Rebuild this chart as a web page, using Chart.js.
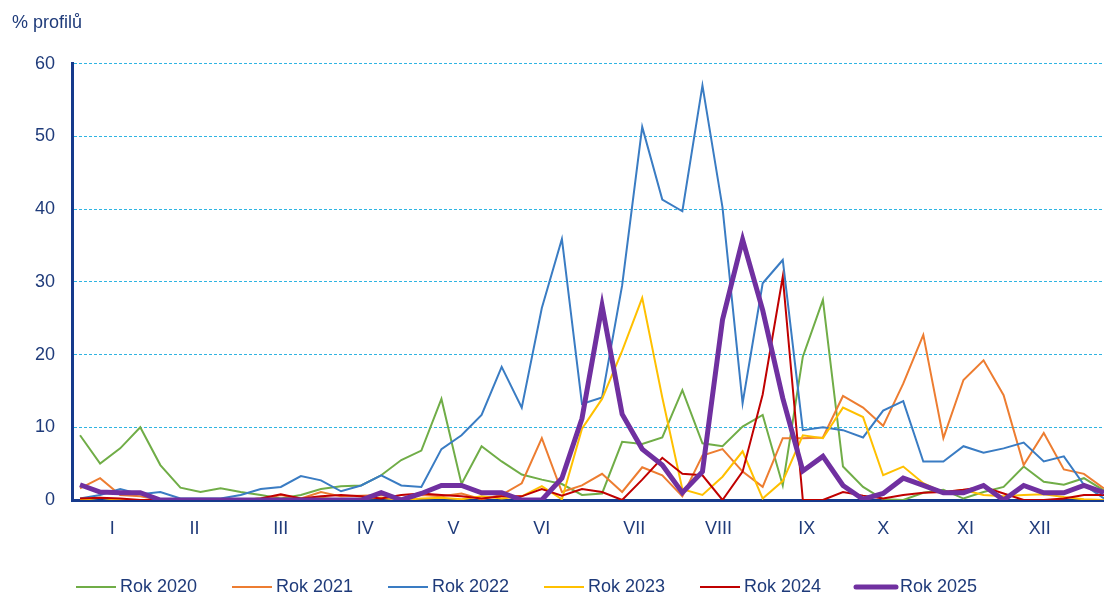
<!DOCTYPE html>
<html>
<head>
<meta charset="utf-8">
<script src="https://cdn.jsdelivr.net/npm/chart.js@4/dist/chart.umd.min.js"></script>
<style>
  html, body { margin: 0; padding: 0; background: #fff; }
  #c { display: block; }
</style>
</head>
<body>
<canvas id="c" width="1104" height="594"></canvas>
<script>
// weekly values, % of profiles (week 1..52)
const weeks = Array.from({ length: 52 }, (_, i) => i);

const rok2020 = [8.9, 5, 7.1, 10, 4.8, 1.7, 1.1, 1.6, 1.1, 0.7, 0.2, 0.7, 1.5, 1.9, 2.0, 3.4, 5.5, 6.8, 13.9, 2.2, 7.4, 5.3, 3.5, 2.8, 2.2, 0.7,
                 0.9, 8.0, 7.7, 8.6, 15.1, 7.8, 7.4, 10.1, 11.7, 2.0, 19.7, 27.5, 4.6, 1.8, 0.1, 0, 1.0, 1.4, 0.2, 1.1, 1.8, 4.6, 2.5, 2.1, 3.0, 1.3];
const rok2021 = [1.6, 3.0, 0.7, 0.5, 0, 0, 0, 0, 0, 0.1, 0.7, 0.2, 1.1, 0.5, 0.6, 0.7, 0.2, 0.7, 0.5, 0.9, 0.1, 0.7, 2.3, 8.5, 1.1, 2.0,
                 3.6, 1.1, 4.5, 3.4, 0.5, 6.1, 7.0, 3.9, 1.8, 8.5, 8.5, 8.6, 14.3, 12.7, 10.2, 16.0, 22.7, 8.5, 16.5, 19.2, 14.4, 4.8, 9.2, 4.2, 3.6, 1.6];
const rok2022 = [0.2, 0.7, 1.5, 0.8, 1.1, 0.2, 0.2, 0.2, 0.7, 1.5, 1.8, 3.3, 2.7, 1.2, 2.0, 3.4, 2.0, 1.8, 7.0, 8.9, 11.7, 18.3, 12.7, 26.4, 35.9, 13.2,
                 14.1, 29.5, 51.3, 41.3, 39.7, 57.0, 40.2, 13.3, 29.8, 33.0, 9.6, 10.0, 9.6, 8.6, 12.3, 13.6, 5.3, 5.3, 7.4, 6.5, 7.1, 7.9, 5.3, 6.0, 2.1, 0.2];
const rok2023 = [0, 0.3, 0, 0, 0, 0, 0.1, 0, 0, 0.2, 0, 0, 0.3, 0, 0.2, 0.3, 0, 0.2, 0.3, 0.1, 0.5, 0.2, 0.5, 1.9, 0.1, 9.8,
                 13.9, 20.5, 27.8, 14.1, 1.5, 0.7, 3.2, 6.7, 0.2, 2.6, 8.9, 8.5, 12.7, 11.4, 3.4, 4.6, 2.3, 1.0, 1.4, 0.7, 0.5, 0.7, 0.8, 0.4, 0.1, 0];
const rok2024 = [0.2, 0.3, 0.2, 0, 0, 0, 0, 0, 0, 0.2, 0.8, 0.2, 0.5, 0.7, 0.5, 0.2, 0.7, 0.9, 0.7, 0.5, 0.2, 0.5, 0.5, 1.5, 0.6, 1.5,
                 1.1, 0, 2.8, 5.8, 3.6, 3.4, 0, 3.9, 14.5, 30.7, 0, 0, 1.1, 0.6, 0.2, 0.7, 1.0, 1.1, 1.4, 1.8, 0.9, 0, 0, 0.2, 0.7, 0.7];
const rok2025 = [2.1, 1.1, 1.0, 1.0, 0, 0, 0, 0, 0, 0, 0, 0, 0, 0, 0, 1.0, 0, 0.9, 2.0, 2.0, 1.0, 1.0, 0, 0, 3.0, 11.2,
                 26.7, 11.8, 7.0, 4.8, 1.0, 3.9, 24.8, 35.8, 26.1, 14.0, 4.0, 6.0, 2.0, 0.1, 0.9, 3.0, 2.0, 1.0, 1.0, 2.0, 0, 2.0, 1.0, 1.0, 2.0, 1.0];

// month labels and the week where each sits
const months  = ['I', 'II', 'III', 'IV', 'V', 'VI', 'VII', 'VIII', 'IX', 'X', 'XI', 'XII'];
const monthAt = [1.6, 5.7, 10.0, 14.2, 18.6, 23.0, 27.6, 31.8, 36.2, 40.0, 44.1, 47.8];
const yTicks  = [0, 10, 20, 30, 40, 50, 60];

const navy = '#1f3b7a';
const axisCol = '#163a8c';
const gridCol = '#2fb4e2';
const font = 'Liberation Sans';

const series = [
  { label: 'Rok 2020', data: rok2020, color: '#70ad47', w: 2 },
  { label: 'Rok 2021', data: rok2021, color: '#ed7d31', w: 2 },
  { label: 'Rok 2022', data: rok2022, color: '#3a7cc3', w: 2 },
  { label: 'Rok 2023', data: rok2023, color: '#ffc000', w: 2 },
  { label: 'Rok 2024', data: rok2024, color: '#c00000', w: 2 },
  { label: 'Rok 2025', data: rok2025, color: '#7030a0', w: 5 },
];

// legend row under the axis, drawn by hand so spacing matches the original
const bottomLegend = {
  id: 'bottomLegend',
  afterDraw(chart) {
    const ctx = chart.ctx;
    const y = chart.height - 7;
    ctx.save();
    ctx.font = '18px "' + font + '"';
    ctx.textBaseline = 'middle';
    ctx.fillStyle = navy;
    chart.data.datasets.forEach((ds, i) => {
      const x = 76 + i * 156;
      ctx.strokeStyle = ds.borderColor;
      ctx.lineWidth = ds.borderWidth;
      ctx.lineCap = ds.borderWidth > 3 ? 'round' : 'butt';
      ctx.beginPath();
      ctx.moveTo(x, y);
      ctx.lineTo(x + 40, y);
      ctx.stroke();
      ctx.fillText(ds.label, x + 44, y);
    });
    ctx.restore();
  }
};

new Chart(document.getElementById('c'), {
  type: 'line',
  data: {
    datasets: series.map((s, i) => ({
      label: s.label,
      data: s.data.map((v, k) => ({ x: weeks[k], y: v })),
      borderColor: s.color,
      backgroundColor: s.color,
      borderWidth: s.w,
      pointRadius: 0,
      tension: 0,
      order: i === 5 ? 0 : 6 - i,
    }))
  },
  options: {
    responsive: false,
    animation: false,
    layout: { padding: { left: 12, right: 0, top: 0, bottom: 58 } },
    plugins: {
      tooltip: { enabled: false },
      legend: { display: false },
      title: {
        display: true, text: '% profilů', align: 'start', color: navy,
        font: { family: font, size: 18, weight: 'normal' },
        padding: { top: 12, bottom: 30 },
      },
    },
    scales: {
      x: {
        type: 'linear', min: -0.4, max: 51,
        afterBuildTicks: s => { s.ticks = monthAt.map(v => ({ value: v })); },
        afterFit: s => { s.height = 36; },
        ticks: {
          callback: (v, i) => months[i],
          color: navy, font: { family: font, size: 18 }, padding: 18, maxRotation: 0, autoSkip: false,
        },
        grid: { display: false, drawTicks: false },
        border: { color: axisCol, width: 3 },
      },
      y: {
        min: 0, max: 60,
        afterBuildTicks: s => { s.ticks = yTicks.map(v => ({ value: v })); },
        afterFit: s => { s.width = 60; },
        ticks: { color: navy, font: { family: font, size: 18 }, padding: 17 },
        grid: { color: gridCol, lineWidth: 1, drawTicks: false },
        border: { color: axisCol, width: 3, dash: [3, 2] },
      }
    }
  },
  plugins: [bottomLegend]
});
</script>
</body>
</html>
